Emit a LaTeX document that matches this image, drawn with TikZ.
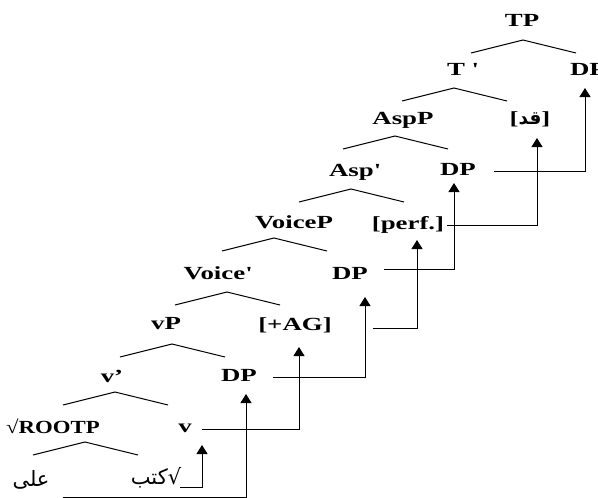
\documentclass[tikz,border=0pt]{standalone}
\usepackage{fontspec}
\usepackage{graphicx}
\setmainfont{Liberation Serif}[FakeStretch=1.45]
\newfontfamily\arabicfont[Script=Arabic]{DejaVu Sans}
\TeXXeTstate=1
\usetikzlibrary{calc,arrows.meta}

% two legs of a branch, hung below the mother node
\newcommand{\fork}[2]{\draw ($(#1.base)+(#2)$) +(-52,13) -- +(0,0) -- +(53,13);}

\begin{document}
\begin{tikzpicture}[
  x=1pt, y=-1pt,
  every node/.style={font=\fontsize{18.5}{20}\selectfont\bfseries, inner sep=0pt, anchor=base},
  arab/.style={font=\fontsize{21}{23}\selectfont\arabicfont},
  arr/.style={-{Triangle[length=9pt,width=11pt]}, line width=1pt},
  every path/.style={line width=1pt}
]
\useasboundingbox (0,0) rectangle (598,498);

% spine of the tree
\node (tp)      at (522,26)  {TP};
\node (tbar)    at (462,75)  {T \textquotesingle};
\node (dpT)     at (588,75)  {DP};
\node (aspp)    at (403,124) {AspP};
\node (qad)     at (530,124) {[{\arabicfont\beginR قد\endR}]};
\node (aspbar)  at (354,176) {Asp\textquotesingle};
\node (dpAsp)   at (458,175) {DP};
\node (voicep)  at (294,228) {VoiceP};
\node (perf)    at (408,229) {[perf.]};
\node (voicebar) at (217,279) {Voice\textquotesingle};
\node (dpVoice) at (350,279) {DP};
\node (vp)      at (166,329) {vP};
\node (ag)      at (295,330) {[+AG]};
\node (vbar)    at (112,382) {v’};
\node (dpv)     at (239,381) {DP};
\node (rootp)   at (53,433)  {\scalebox{0.85}[1]{√ROOTP}};
\node (littlev) at (185,432) {v};
\node[arab] (ala) at (31,486) {\beginR على\endR};
\node[arab] (ktb) at (156,484) {\beginR كتب\endR√};

\fork{tp}{1,14}
\fork{tbar}{-8,13}
\fork{aspp}{-8,12}
\fork{aspbar}{-3,13}
\fork{voicep}{-20,10}
\fork{voicebar}{10,13}
\fork{vp}{6,15}
\fork{vbar}{3,10}
\fork{rootp}{32,9}

% movement arrows
\draw[arr] ($(ktb.base)+(24,3)$) -| ($(littlev.base)+(17,13)$);
\draw[arr] ($(ala.base)+(32,11)$) -| ($(dpv.base)+(7,13)$);
\draw[arr] ($(littlev.base)+(17,-3)$) -| ($(ag.base)+(4,17)$);
\draw[arr] ($(dpv.base)+(34,-4)$) -| ($(dpVoice.base)+(15,18)$);
\draw[arr] ($(ag.base)+(78,-2)$) -| ($(perf.base)+(9,11)$);
\draw[arr] ($(dpVoice.base)+(34,-10)$) -| ($(dpAsp.base)+(-4,8)$);
\draw[arr] ($(perf.base)+(39,-4)$) -| ($(qad.base)+(7,14)$);
\draw[arr] ($(dpAsp.base)+(36,-4)$) -| ($(dpT.base)+(-3,13)$);
\end{tikzpicture}
\end{document}
